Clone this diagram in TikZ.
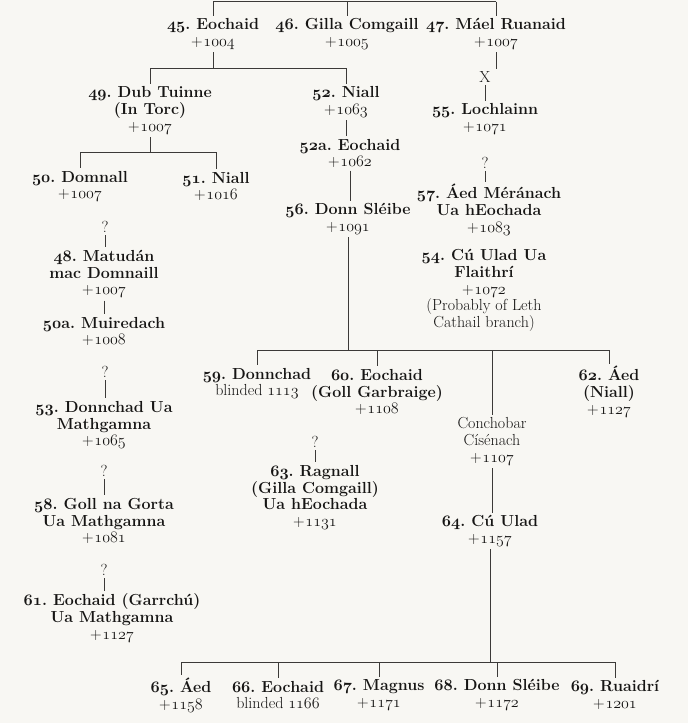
\RequirePackage{fix-cm}
\documentclass[tikz,border=0pt]{standalone}
\usepackage{tikz}
\definecolor{paper}{RGB}{248,247,243}
\definecolor{ink}{RGB}{22,21,20}
\definecolor{rule}{RGB}{60,58,56}
\tikzstyle{person} = [align=center, 
inner xsep=0pt, 
inner ysep=2.5pt, 
text=ink]
\tikzstyle{query} = [inner xsep=0pt, 
inner ysep=2.5pt, 
text=ink]
\tikzstyle{line} = [draw=rule, line width=0.7pt]
\newcommand{\gen}[1]{{\usefont{OML}{cmm}{b}{it}#1}}
\newcommand{\os}[1]{{\usefont{OML}{cmm}{m}{it}#1}}
\newcommand{\died}[1]{+\kern0.8pt\os{#1}}

\begin{document}
\begin{tikzpicture}[x=1pt, y=1pt, font=\fontsize{16}{16.8}\selectfont\frenchspacing]

    \fill [paper] (0,0) rectangle (688,-723);
    \useasboundingbox (0,0) rectangle (688,-723);

    \node (n45) [person] at (213,-34) {\textbf{\gen{45}. Eochaid}\\\died{1004}};
    \node (n46) [person] at (347,-34) {\textbf{\gen{46}. Gilla Comgaill}\\\died{1005}};
    \node (n47) [person] at (496,-34) {\textbf{\gen{47}. Máel Ruanaid}\\\died{1007}};

    \node (cross) [query] at (485,-77) {X};
    \node (n55) [person] at (485,-119) {\textbf{\gen{55}. Lochlainn}\\\died{1071}};
    \node (q57) [query] at (485,-163) {?};
    \node (n57) [person] at (489,-210) {\textbf{\gen{57}. Áed Méránach}\\\textbf{Ua hEochada}\\\died{1083}};
    \node (n54) [person] at (484,-290.5) {\textbf{\gen{54}. Cú Ulad Ua}\\\textbf{Flaithrí}\\\died{1072}\\(Probably of Leth\\Cathail branch)};

    \node (n49) [person] at (150,-110.5) {\textbf{\gen{49}. Dub Tuinne}\\\textbf{(In Torc)}\\\died{1007}};
    \node (n52) [person] at (346,-102) {\textbf{\gen{52}. Niall}\\\died{1063}};
    \node (n52a) [person] at (350,-153.5) {\textbf{\gen{52}a. Eochaid}\\\died{1062}};
    \node (n56) [person] at (348,-219) {\textbf{\gen{56}. Donn Sléibe}\\\died{1091}};

    \node (n50) [person] at (80,-186.5) {\textbf{\gen{50}. Domnall}\\\died{1007}};
    \node (n51) [person] at (216,-186.5) {\textbf{\gen{51}. Niall}\\\died{1016}};
    \node (q48) [query] at (105,-227) {?};
    \node (n48) [person] at (104,-274) {\textbf{\gen{48}. Matudán}\\\textbf{mac Domnaill}\\\died{1007}};
    \node (n50a) [person] at (104,-331.5) {\textbf{\gen{50}a. Muiredach}\\\died{1008}};
    \node (q53) [query] at (105,-372) {?};
    \node (n53) [person] at (104,-425) {\textbf{\gen{53}. Donnchad Ua}\\\textbf{Mathgamna}\\\died{1065}};
    \node (q58) [query] at (104,-471) {?};
    \node (n58) [person] at (104,-521) {\textbf{\gen{58}. Goll na Gorta}\\\textbf{Ua Mathgamna}\\\died{1081}};
    \node (q61) [query] at (104,-570) {?};
    \node (n61) [person] at (112,-618) {\textbf{\gen{61}. Eochaid (Garrchú)}\\\textbf{Ua Mathgamna}\\\died{1127}};

    \node (n59) [person] at (257,-383.5) {\textbf{\gen{59}. Donnchad}\\blinded \os{1113}};
    \node (n60) [person] at (377,-392) {\textbf{\gen{60}. Eochaid}\\\textbf{(Goll Garbraige)}\\\died{1108}};
    \node (con) [person] at (492,-441.5) {Conchobar\\Císénach\\\died{1107}};
    \node (n62) [person] at (609,-392) {\textbf{\gen{62}. Áed}\\\textbf{(Niall)}\\\died{1127}};
    \node (q63) [query] at (315,-442) {?};
    \node (n63) [person] at (315,-497.5) {\textbf{\gen{63}. Ragnall}\\\textbf{(Gilla Comgaill)}\\\textbf{Ua hEochada}\\\died{1131}};
    \node (n64) [person] at (490,-531) {\textbf{\gen{64}. Cú Ulad}\\\died{1157}};

    \node (n65) [person] at (181,-695) {\textbf{\gen{65}. Áed}\\\died{1158}};
    \node (n66) [person] at (278,-695) {\textbf{\gen{66}. Eochaid}\\blinded \os{1166}};
    \node (n67) [person] at (379,-695) {\textbf{\gen{67}. Magnus}\\\died{1171}};
    \node (n68) [person] at (497,-695) {\textbf{\gen{68}. Donn Sléibe}\\\died{1172}};
    \node (n69) [person] at (615,-695) {\textbf{\gen{69}. Ruaidrí}\\\died{1201}};

    \coordinate (bar0) at (0,-1.5);
    \coordinate (bar1) at (0,-68);
    \coordinate (bar2) at (0,-152);
    \coordinate (bar3) at (0,-350);
    \coordinate (bar4) at (0,-662);

    \draw [line] (n45 |- bar0) -- (n47 |- bar0);
    \draw [line] (n45 |- bar0) -- (n45.north);
    \draw [line] (n46 |- bar0) -- (n46.north);
    \draw [line] (n47 |- bar0) -- (n47.north);

    \draw [line] (n47.south) -- (n47.south |- cross.north);
    \draw [line] (cross.south) -- (cross.south |- n55.north);
    \draw [line] (q57.south) -- (q57.south |- n57.north);

    \draw [line] (n45.south) -- (n45 |- bar1);
    \draw [line] (n49 |- bar1) -- (n52 |- bar1);
    \draw [line] (n49 |- bar1) -- (n49.north);
    \draw [line] (n52 |- bar1) -- (n52.north);
    \draw [line] (n52.south) -- (n52.south |- n52a.north);
    \draw [line] (n52a.south) -- (n52a.south |- n56.north);

    \draw [line] (n49.south) -- (n49 |- bar2);
    \draw [line] (n50 |- bar2) -- (n51 |- bar2);
    \draw [line] (n50 |- bar2) -- (n50.north);
    \draw [line] (n51 |- bar2) -- (n51.north);

    \draw [line] (q48.south) -- (q48.south |- n48.north);
    \draw [line] (n48.south) -- (n48.south |- n50a.north);
    \draw [line] (q53.south) -- (q53.south |- n53.north);
    \draw [line] (q58.south) -- (q58.south |- n58.north);
    \draw [line] (q61.south) -- (q61.south |- n61.north);

    \draw [line] (n56.south) -- (n56 |- bar3);
    \draw [line] (n59 |- bar3) -- (n62 |- bar3);
    \draw [line] (n59 |- bar3) -- (n59.north);
    \draw [line] (n60 |- bar3) -- (n60.north);
    \draw [line] (con |- bar3) -- (con.north);
    \draw [line] (n62 |- bar3) -- (n62.north);
    \draw [line] (q63.south) -- (q63.south |- n63.north);
    \draw [line] (con.south) -- (con.south |- n64.north);

    \draw [line] (n64.south) -- (n64 |- bar4);
    \draw [line] (n65 |- bar4) -- (n69 |- bar4);
    \draw [line] (n65 |- bar4) -- (n65.north);
    \draw [line] (n66 |- bar4) -- (n66.north);
    \draw [line] (n67 |- bar4) -- (n67.north);
    \draw [line] (n68 |- bar4) -- (n68.north);
    \draw [line] (n69 |- bar4) -- (n69.north);

\end{tikzpicture}
\end{document}
